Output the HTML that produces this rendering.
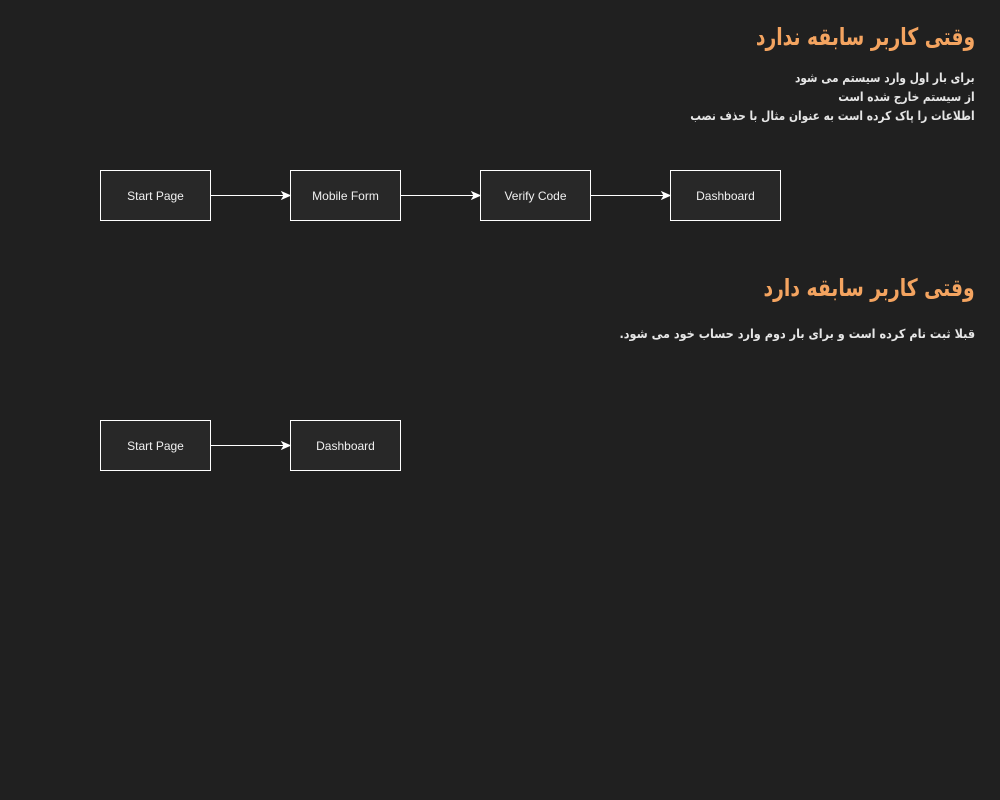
<!DOCTYPE html>
<html><head><meta charset="utf-8"><style>
body{margin:0;width:1000px;height:800px;background:#202020;position:relative;overflow:hidden;font-family:"Liberation Sans","Noto Sans CJK SC",sans-serif}
.t{position:absolute;right:25px;direction:rtl;white-space:nowrap;font-family:"DejaVu Sans","Noto Sans CJK SC",sans-serif;transform-origin:right center}
.h{color:#f4a460;font-size:24px;font-weight:bold;transform:scaleX(0.78)}
.p{color:#e6e6e6;font-size:12.5px;font-weight:bold;line-height:19px;transform:scaleX(0.85)}
.b{position:absolute;width:109px;height:49px;border:1px solid #fff;background:#282828;color:#f0f0f0;font-size:12px;display:flex;align-items:center;justify-content:center;box-sizing:content-box}
svg{position:absolute;left:0;top:0}
</style></head><body>
<div class="t h" style="top:23px">وقتی کاربر سابقه ندارد</div>
<div class="t p" style="top:68px">برای بار اول وارد سیستم می شود<br>از سیستم خارج شده است<br>اطلاعات را پاک کرده است به عنوان مثال با حذف نصب</div>
<div class="t h" style="top:274px">وقتی کاربر سابقه دارد</div>
<div class="t p" style="top:324px;transform:scaleX(0.90)">قبلا ثبت نام کرده است و برای بار دوم وارد حساب خود می شود.</div>
<div class="b" style="left:100px;top:170px">Start Page</div>
<div class="b" style="left:290px;top:170px">Mobile Form</div>
<div class="b" style="left:480px;top:170px">Verify Code</div>
<div class="b" style="left:670px;top:170px">Dashboard</div>
<div class="b" style="left:100px;top:420px">Start Page</div>
<div class="b" style="left:290px;top:420px">Dashboard</div>
<svg width="1000" height="800">
<g stroke="#fff" stroke-width="1" fill="#fff">
<line x1="211" y1="195.5" x2="284" y2="195.5"/><path d="M290 195.5 L282 192 L284 195.5 L282 199Z"/>
<line x1="401" y1="195.5" x2="474" y2="195.5"/><path d="M480 195.5 L472 192 L474 195.5 L472 199Z"/>
<line x1="591" y1="195.5" x2="664" y2="195.5"/><path d="M670 195.5 L662 192 L664 195.5 L662 199Z"/>
<line x1="211" y1="445.5" x2="284" y2="445.5"/><path d="M290 445.5 L282 442 L284 445.5 L282 449Z"/>
</g></svg>
</body></html>
